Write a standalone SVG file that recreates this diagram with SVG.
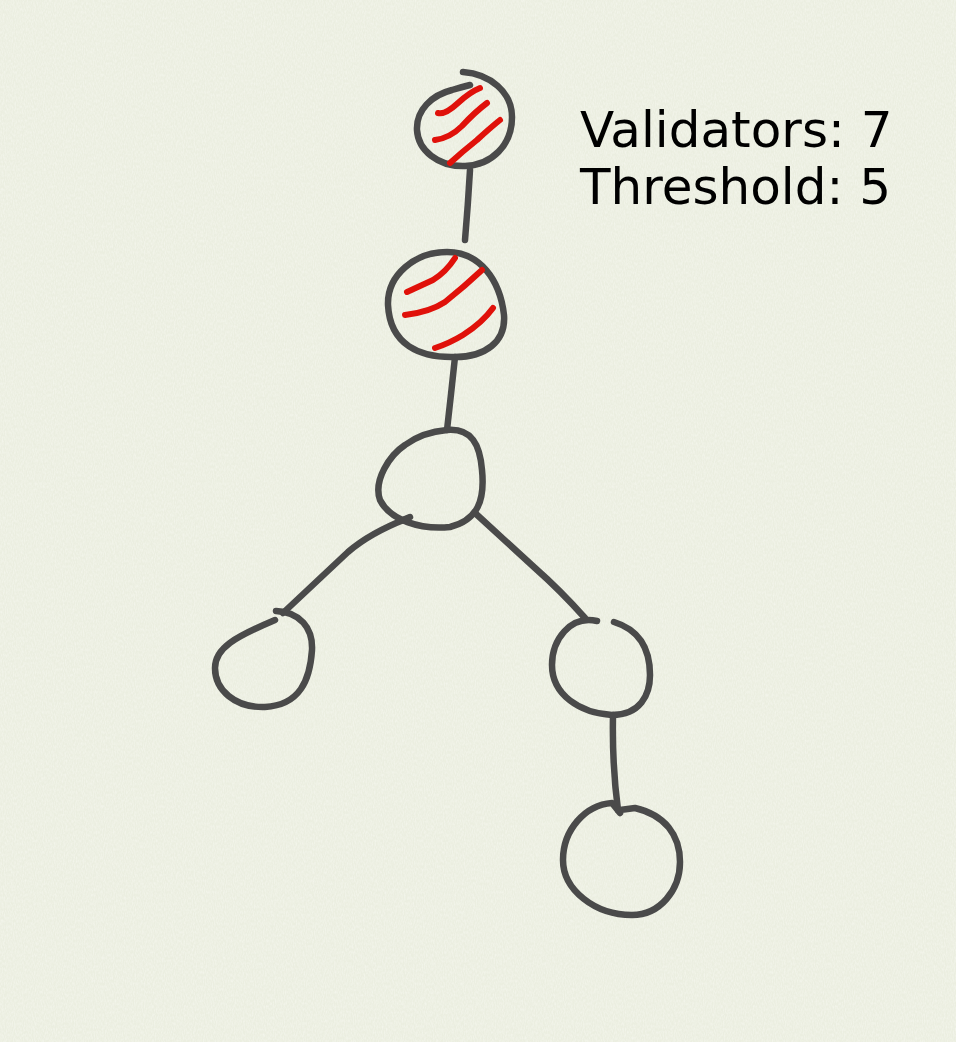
<svg xmlns="http://www.w3.org/2000/svg" width="956" height="1042" viewBox="0 0 956 1042">
<style>
.n{fill:none;stroke:#4a4a4a;stroke-width:6.5;stroke-linecap:round;stroke-linejoin:round}
.h{fill:none;stroke:#e0110a;stroke-width:6;stroke-linecap:round;stroke-linejoin:round}
.t{font-family:"DejaVu Sans",sans-serif;font-size:50px;fill:#000}
</style>
<defs>
<filter id="paper" x="0" y="0" width="100%" height="100%">
<feTurbulence type="fractalNoise" baseFrequency="0.9 0.35" numOctaves="2" seed="3" result="t"/>
<feColorMatrix type="matrix" values="0 0 0 0 0.93  0 0 0 0 0.94  0 0 0 0 0.88  0 0 0 -1.1 0.75" in="t"/>
</filter>
</defs>
<rect width="956" height="1042" fill="#ebeee0"/>
<rect width="956" height="1042" filter="url(#paper)"/>
<g id="connectors">
<path class="n" d="M470,170 Q468,205 465,240"/>
<path class="n" d="M455,357 Q451,395 447,430"/>
<path class="n" d="M406,519 Q370,533 348,552 Q318,580 283,613"/>
<path class="n" d="M475,513 Q510,545 535,568 Q560,590 585,618"/>
<path class="n" d="M613,715 Q612,765 618,810"/>
</g>
<g id="node1">
<path class="n" d="M463,72 C490,74 512,92 512,117 C512,145 492,165 465,166 C438,167 418,150 417,130 C416,110 432,95 452,90 Q462,87 470,85"/>
<path class="h" d="M438,113 Q445,115 458,103 Q470,92 480,88"/>
<path class="h" d="M435,140 Q450,138 462,126 Q475,112 487,103"/>
<path class="h" d="M450,163 Q462,152 477,140 Q490,128 500,120"/>
</g>
<g id="node2">
<path class="n" d="M447,252 C480,252 500,280 504,315 C506,342 485,357 455,357 C420,358 390,345 388,305 C387,275 415,252 447,252"/>
<path class="h" d="M407,292 Q420,286 433,280 Q446,272 455,258"/>
<path class="h" d="M405,315 Q430,312 445,302 Q465,286 482,270"/>
<path class="h" d="M435,348 Q450,343 463,335 Q482,323 493,308"/>
</g>
<g id="node3">
<path class="n" d="M447,430 C472,428 480,445 482,470 C485,500 478,520 450,527 C420,530 390,520 380,500 C373,480 390,455 405,445 C420,434 435,431 447,430"/>
<path class="n" d="M403,520 L410,517"/>
</g>
<g id="node4">
<path class="n" d="M276,611 C300,612 313,628 312,650 C310,680 300,705 265,707 C235,708 215,690 215,668 C215,648 235,637 275,620"/>
</g>
<g id="node5">
<path class="n" d="M597,621 C570,615 552,640 552,665 C552,695 580,713 612,715 C640,715 650,695 650,675 C650,650 640,630 614,622"/>
</g>
<g id="node6">
<path class="n" d="M620,813 L612,803 C585,805 563,830 563,860 C563,890 595,915 632,915 C660,915 680,890 680,862 C680,835 665,815 635,808 L620,810"/>
</g>
<text class="t" x="580" y="147">Validators: 7</text>
<text class="t" x="580" y="204">Threshold: 5</text>
</svg>
